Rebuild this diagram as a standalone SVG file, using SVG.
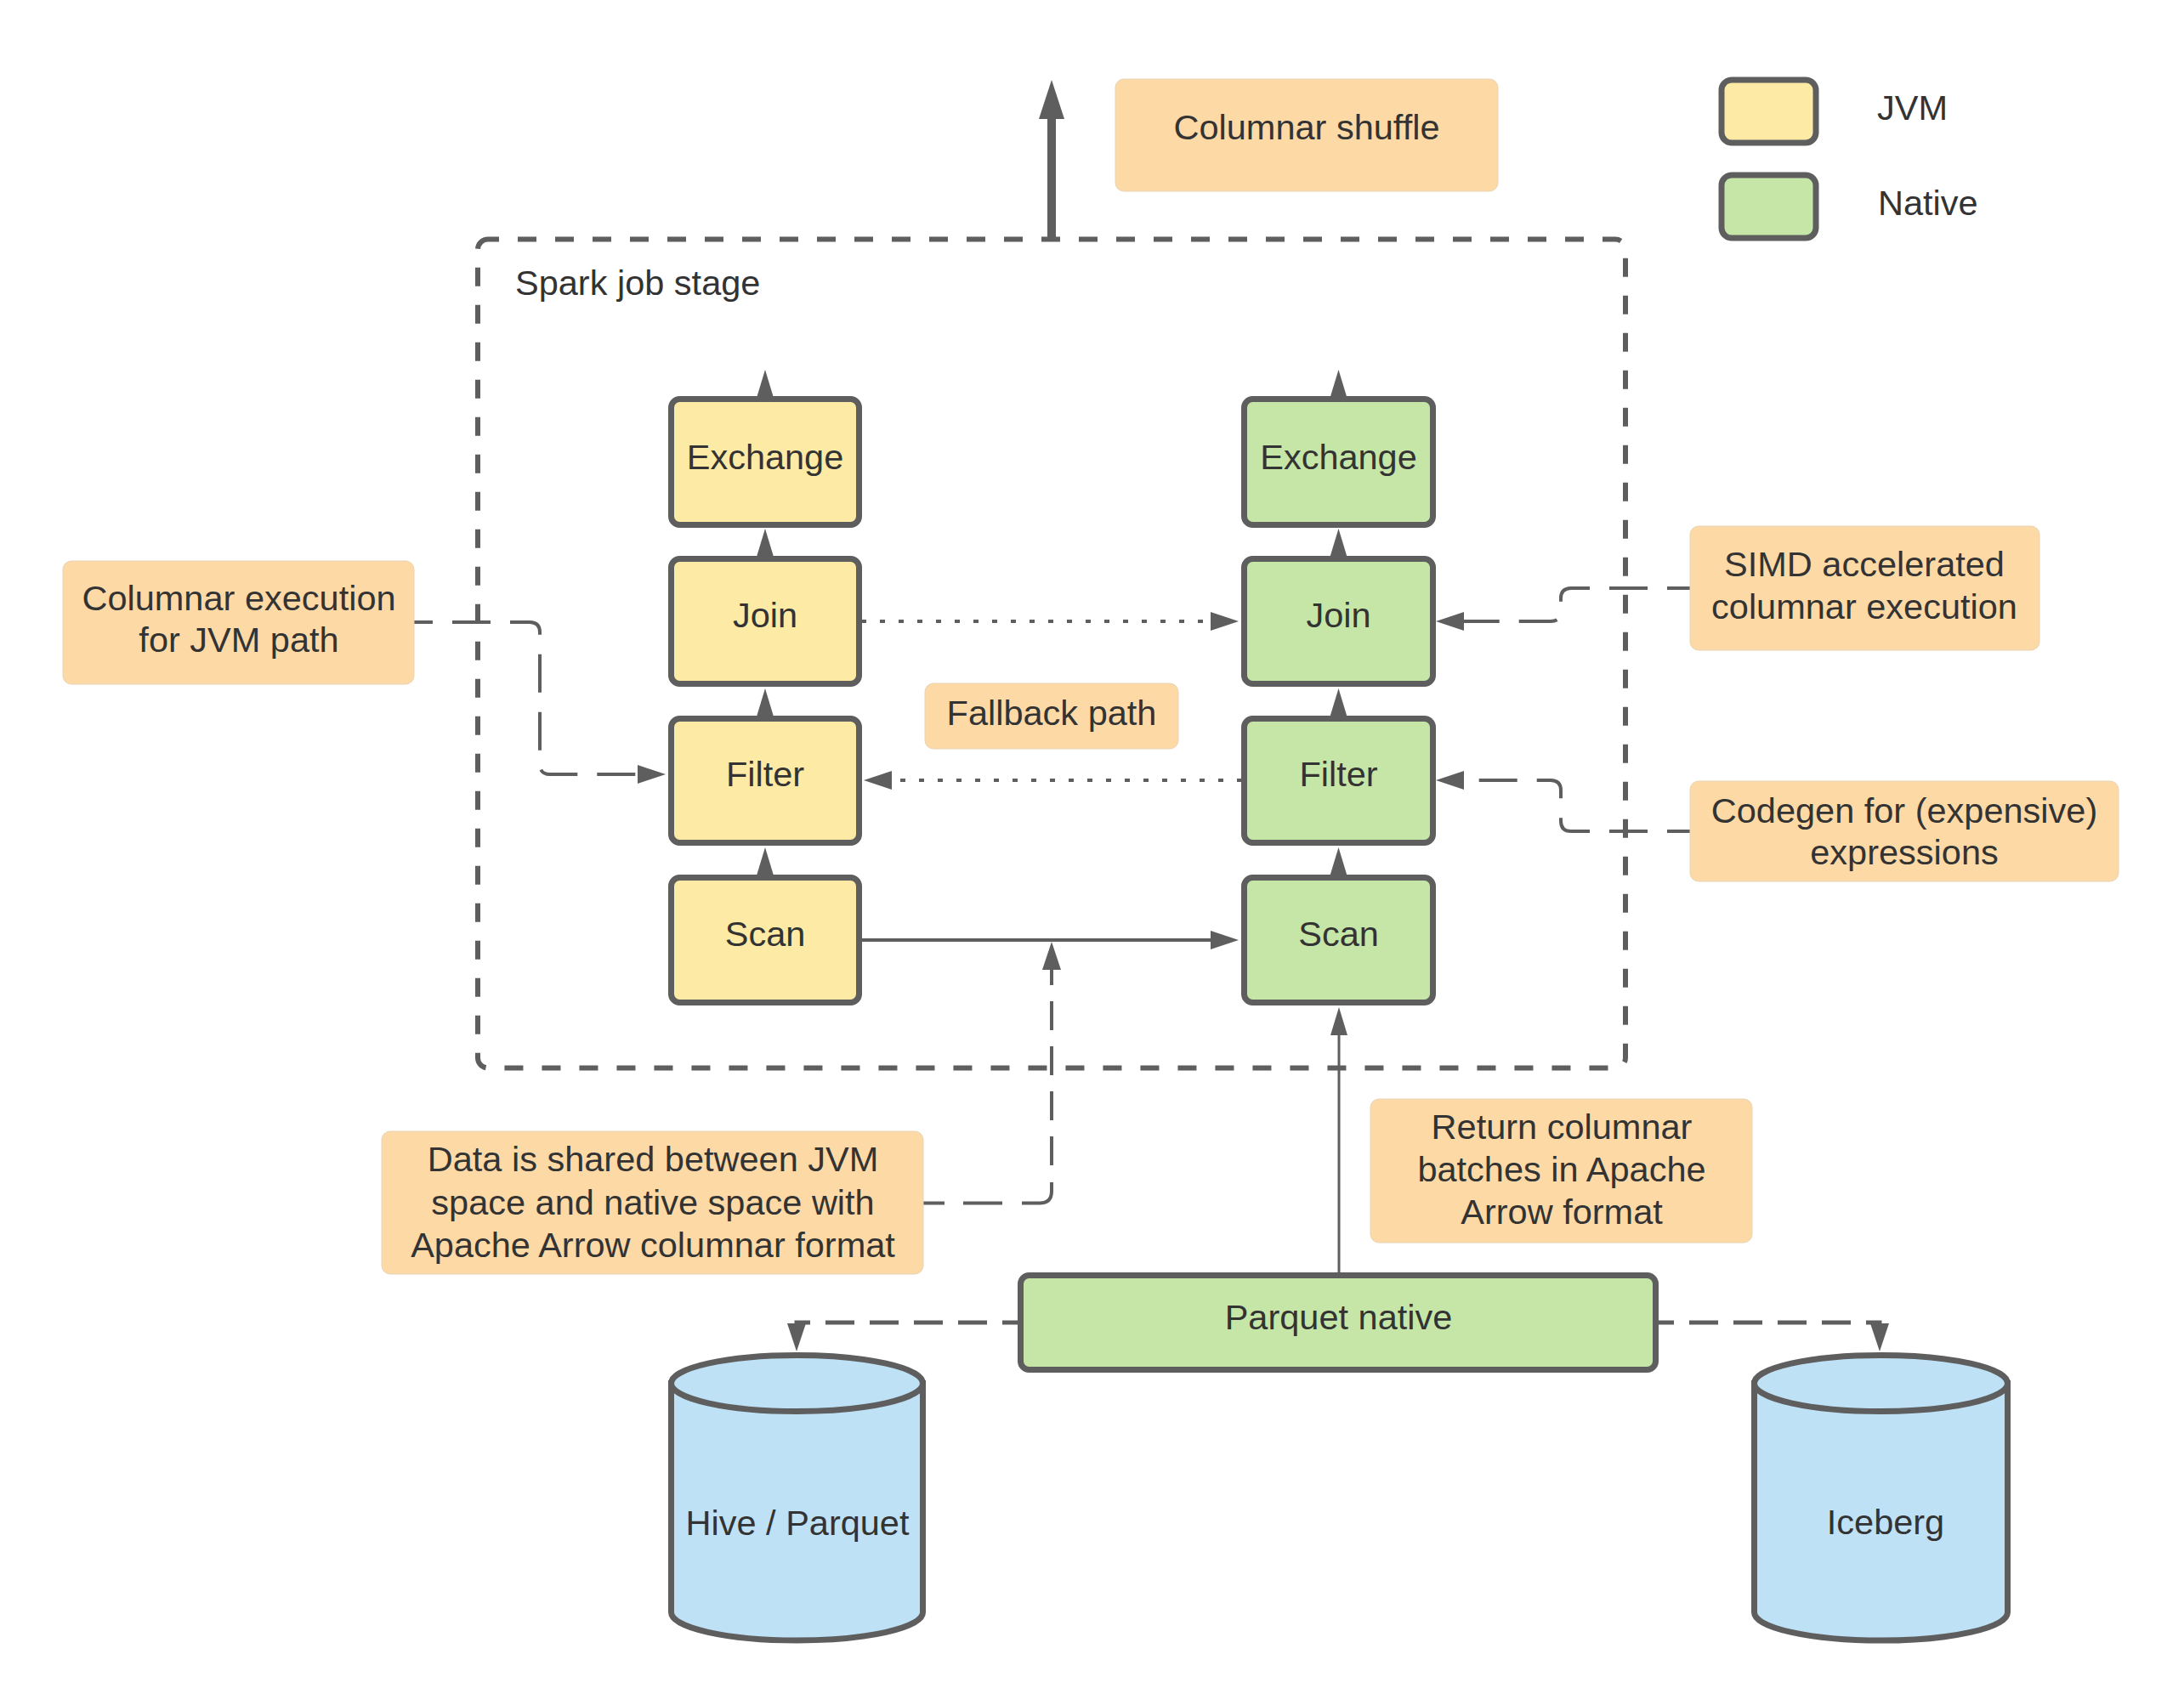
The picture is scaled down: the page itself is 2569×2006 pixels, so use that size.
<svg xmlns="http://www.w3.org/2000/svg" width="2569" height="2006" viewBox="0 0 2569 2006">
<style>
text{font-family:"Liberation Sans",Arial,sans-serif;font-size:41.500px;fill:#333;text-anchor:middle}
.box{stroke:#5e5e5e;stroke-width:7}
.y{fill:#fdeaa4}.g{fill:#c6e6a8}.b{fill:#bfe1f5;stroke:#5e5e5e;stroke-width:7}
.o{fill:#fdd9a6;stroke:#e8d3b4;stroke-width:1}
.c{fill:none;stroke:#5e5e5e;stroke-width:4}
.d{stroke-dasharray:45 23}
.dt{stroke-dasharray:6 16}
.l{text-anchor:start}
</style>
<defs>
<marker id="a" markerUnits="userSpaceOnUse" markerWidth="36" markerHeight="26" refX="0" refY="13" orient="auto"><path d="M0 2L33 13L0 24Z" fill="#5e5e5e"/></marker>
<marker id="u" markerUnits="userSpaceOnUse" markerWidth="36" markerHeight="24" refX="0" refY="12" orient="auto"><path d="M0 2L33 12L0 22Z" fill="#5e5e5e"/></marker>
<marker id="big" markerUnits="userSpaceOnUse" markerWidth="48" markerHeight="34" refX="0" refY="17" orient="auto"><path d="M0 2L46 17L0 32Z" fill="#5e5e5e"/></marker>
</defs>
<rect width="2569" height="2006" fill="#fff"/>
<g id="stage">
<rect x="562" y="281.500" width="1350" height="975" rx="12" fill="none" stroke="#5e5e5e" stroke-width="6" stroke-dasharray="22 22" stroke-dashoffset="9"/>
<text class="l" x="606" y="347">Spark job stage</text>
</g>
<g id="connectors">
<path class="c" style="stroke-width:10" d="M1237 282V140" marker-end="url(#big)"/>
<path class="c" d="M900 470V468" marker-end="url(#u)"/>
<path class="c" d="M1574.500 470V468" marker-end="url(#u)"/>
<path class="c" d="M900 658V655" marker-end="url(#u)"/>
<path class="c" d="M1574.500 658V655" marker-end="url(#u)"/>
<path class="c" d="M900 846V843" marker-end="url(#u)"/>
<path class="c" d="M1574.500 846V843" marker-end="url(#u)"/>
<path class="c" d="M900 1033V1030" marker-end="url(#u)"/>
<path class="c" d="M1574.500 1033V1030" marker-end="url(#u)"/>
<path class="c dt" d="M1013 731H1424" marker-end="url(#a)"/>
<path class="c dt" d="M1461 918H1049" marker-end="url(#a)"/>
<path class="c" d="M1013 1106H1424" marker-end="url(#a)"/>
<path class="c d" style="stroke-dashoffset:23" d="M487 732H623Q635 732 635 744V899Q635 911 647 911H750" marker-end="url(#a)"/>
<path class="c d" style="stroke-dashoffset:18" d="M1988 692H1848Q1836 692 1836 704V719Q1836 731 1824 731H1722" marker-end="url(#a)"/>
<path class="c d" style="stroke-dashoffset:18" d="M1988 978H1848Q1836 978 1836 966V930Q1836 918 1824 918H1722" marker-end="url(#a)"/>
<path class="c" style="stroke-dasharray:25 22 46 23 54 20 34 19 34 19 34 19 34 19 34 19 34 19" d="M1086 1415.500H1223Q1237 1415.500 1237 1401.500V1141" marker-end="url(#a)"/>
<path class="c" style="stroke-width:3" d="M1575 1498V1218" marker-end="url(#u)"/>
<path class="c" style="stroke-width:5;stroke-dasharray:34 18;stroke-dashoffset:15" d="M1198 1556H937V1557" marker-end="url(#a)"/>
<path class="c" style="stroke-width:5;stroke-dasharray:34 18;stroke-dashoffset:15" d="M1950 1556H2211V1557" marker-end="url(#a)"/>
</g>
<g id="jvm-exchange"><rect class="box y" x="789.500" y="469.500" width="221" height="148" rx="10"/><text x="900" y="552">Exchange</text></g>
<g id="jvm-join"><rect class="box y" x="789.500" y="657.500" width="221" height="147" rx="10"/><text x="900" y="738">Join</text></g>
<g id="jvm-filter"><rect class="box y" x="789.500" y="845.500" width="221" height="146" rx="10"/><text x="900" y="925">Filter</text></g>
<g id="jvm-scan"><rect class="box y" x="789.500" y="1032.500" width="221" height="147" rx="10"/><text x="900" y="1113">Scan</text></g>
<g id="native-exchange"><rect class="box g" x="1463.500" y="469.500" width="222" height="148" rx="10"/><text x="1574.500" y="552">Exchange</text></g>
<g id="native-join"><rect class="box g" x="1463.500" y="657.500" width="222" height="147" rx="10"/><text x="1574.500" y="738">Join</text></g>
<g id="native-filter"><rect class="box g" x="1463.500" y="845.500" width="222" height="146" rx="10"/><text x="1574.500" y="925">Filter</text></g>
<g id="native-scan"><rect class="box g" x="1463.500" y="1032.500" width="222" height="147" rx="10"/><text x="1574.500" y="1113">Scan</text></g>
<g id="parquet-native"><rect class="box g" x="1200.500" y="1500.500" width="747" height="111" rx="10"/><text x="1574.500" y="1564">Parquet native</text></g>
<g id="hive"><path class="b" d="M789.500 1627.500V1897A148 33 0 0 0 1085.500 1897V1627.500Z"/><ellipse class="b" cx="937.500" cy="1627.500" rx="148" ry="33"/><text x="938" y="1806">Hive / Parquet</text></g>
<g id="iceberg"><path class="b" d="M2063.500 1627.500V1897A148.500 33 0 0 0 2361.500 1897V1627.500Z"/><ellipse class="b" cx="2212.500" cy="1627.500" rx="149" ry="33"/><text x="2218" y="1805">Iceberg</text></g>
<g id="note-shuffle"><rect class="o" x="1312" y="93" width="450" height="132" rx="10"/><text x="1537" y="164">Columnar shuffle</text></g>
<g id="note-jvm"><rect class="o" x="74" y="660" width="413" height="145" rx="10"/><text x="281" y="718">Columnar execution</text><text x="281" y="767">for JVM path</text></g>
<g id="note-simd"><rect class="o" x="1988" y="619" width="411" height="146" rx="10"/><text x="2193" y="678">SIMD accelerated</text><text x="2193" y="728">columnar execution</text></g>
<g id="note-codegen"><rect class="o" x="1988" y="919" width="504" height="118" rx="10"/><text x="2240" y="968">Codegen for (expensive)</text><text x="2240" y="1017">expressions</text></g>
<g id="note-fallback"><rect class="o" x="1088" y="804" width="298" height="77" rx="10"/><text x="1237" y="853">Fallback path</text></g>
<g id="note-data"><rect class="o" x="449" y="1331" width="637" height="168" rx="10"/><text x="768" y="1378">Data is shared between JVM</text><text x="768" y="1429">space and native space with</text><text x="768" y="1479">Apache Arrow columnar format</text></g>
<g id="note-return"><rect class="o" x="1612" y="1293" width="449" height="169" rx="10"/><text x="1837" y="1340">Return columnar</text><text x="1837" y="1390">batches in Apache</text><text x="1837" y="1440">Arrow format</text></g>
<g id="legend-jvm"><rect class="box y" x="2025" y="94" width="111" height="74" rx="12"/><text class="l" x="2208" y="141">JVM</text></g>
<g id="legend-native"><rect class="box g" x="2025" y="206" width="111" height="74" rx="12"/><text class="l" x="2209" y="253">Native</text></g>
</svg>
